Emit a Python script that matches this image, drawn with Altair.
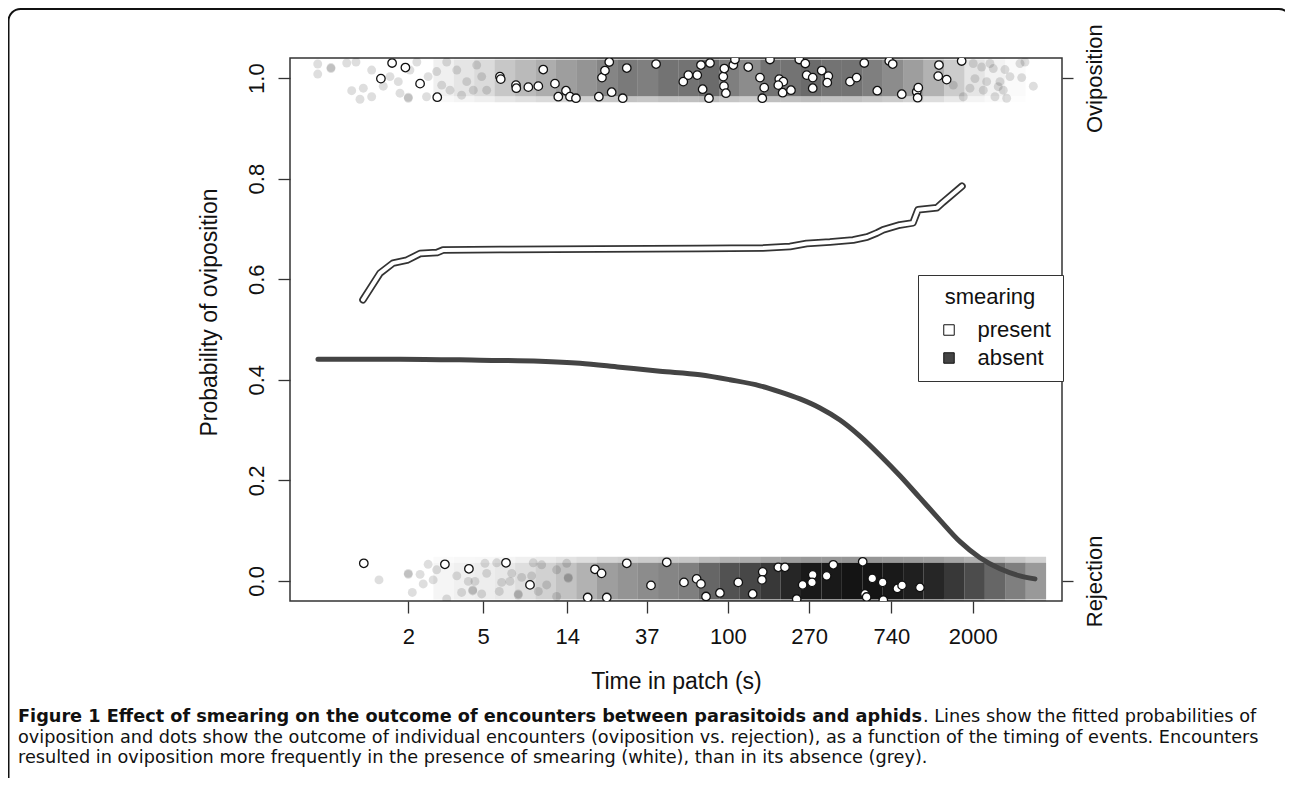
import altair as alt
import pandas as pd

# ---------------- data ----------------
x_ticks = [2, 5, 14, 37, 100, 270, 740, 2000]
y_ticks = [0, 0.2, 0.4, 0.6, 0.8, 1.0]
outcome_values = [0, 1]
outcome_labels = ["Rejection", "Oviposition"]
smearing_levels = ["present", "absent"]
smearing_colors = ["white", "#444444"]

# fitted curves
curve_present_t = [1.148, 1.414, 1.658, 1.968, 2.307, 2.841, 3.057, 6.14, 20.9, 71.0,
                   153.7, 213.8, 262, 348.7, 463, 550, 620, 667, 820, 963, 1024, 1291, 1391, 1755]
curve_present_p = [0.559, 0.612, 0.632, 0.638, 0.651, 0.653, 0.658, 0.659, 0.660, 0.661,
                   0.662, 0.665, 0.671, 0.674, 0.678, 0.684, 0.692, 0.698, 0.708, 0.712, 0.738, 0.742, 0.753, 0.785]
curve_absent_t = [0.662, 1.81, 4.81, 10.02, 16.36, 26.7, 43.5, 71.0, 102.5, 148.1, 189.2, 241.6,
                  308.6, 394.3, 503.4, 643.3, 821.6, 1049.6, 1340, 1713, 2187, 2794, 3566, 4288]
curve_absent_p = [0.441, 0.441, 0.439, 0.437, 0.433, 0.425, 0.417, 0.410, 0.400, 0.388, 0.376, 0.362,
                  0.344, 0.320, 0.288, 0.250, 0.209, 0.165, 0.121, 0.078, 0.046, 0.024, 0.010, 0.004]

# individual encounters, smearing present (white dots), jittered outcome
present_ovi_t = [1.64, 1.93, 1.43, 2.31, 2.85, 6.14, 6.2, 7.47, 7.5, 8.69, 9.82, 10.43, 12.04, 13.78, 12.54,
                 14.47, 15.57, 20.6, 24.1, 27.6, 21.4, 22.2, 23.4, 29.0, 41.5, 57.9, 61.6, 68.7, 71.9, 80.3,
                 73.4, 79.3, 94.5, 95.7, 106.8, 109.0, 95.3, 97.6, 128.3, 148.1, 167.3, 156.0, 152.3, 187.5,
                 197.0, 185.3, 195.4, 216.4, 239.6, 257.8, 262.3, 282.4, 315.2, 341.8, 337.4, 282.4, 445.5,
                 483.5, 530.7, 622.3, 720.6, 751.5, 839.8, 1008.6, 1028, 1020, 1324, 1312, 1455, 1748]
present_ovi_y = [1.030, 1.021, 0.999, 0.989, 0.962, 1.003, 0.998, 0.986, 0.980, 0.982,
                 0.984, 1.017, 0.989, 0.975, 0.963, 0.963, 0.960, 0.963, 0.972, 0.960,
                 1.001, 1.015, 1.032, 1.020, 1.028, 0.993, 1.006, 1.006, 1.026, 1.030,
                 0.978, 0.960, 1.003, 1.019, 1.026, 1.037, 0.984, 0.970, 1.022, 1.001,
                 1.037, 0.981, 0.960, 0.998, 0.993, 0.986, 0.971, 0.976, 1.037, 1.029,
                 1.006, 1.001, 1.015, 1.004, 0.991, 0.980, 0.993, 1.001, 1.030, 0.975,
                 1.034, 1.028, 0.968, 0.973, 0.981, 0.961, 1.026, 1.004, 0.997, 1.034]
present_rej_t = [1.16, 3.13, 4.20, 6.61, 8.87, 19.65, 21.3, 17.97, 22.7, 29.0,
                 47.3, 39.0, 58.4, 68.2, 71.9, 76.5, 90.7, 113.5, 135.4, 153.1,
                 151.7, 185.3, 201.1, 232.1, 249.6, 282.4, 279.9, 334.9, 363.2, 520.6,
                 535.5, 546.4, 585.4, 664.8, 670, 795.6, 843.2, 1049]
present_rej_y = [0.035, 0.033, 0.024, 0.036, -0.008, 0.023, 0.015, -0.033, -0.033, 0.035,
                 0.037, -0.009, -0.003, 0.004, -0.006, -0.031, -0.024, -0.003, -0.026, 0.018,
                 0.002, 0.027, 0.027, -0.036, -0.008, 0.012, -0.003, 0.010, 0.032, 0.038,
                 -0.026, -0.032, 0.005, -0.003, -0.038, -0.015, -0.009, -0.013]

# smearing absent: isolated encounters at the sparse ends of the clouds
absent_ovi_t = [0.660, 0.660, 0.776, 0.776, 0.941, 1.054, 1.0, 1.107, 1.153, 1.277,
                1.277, 1.472, 1.598, 1.769, 1.806, 2.0, 2.0, 2.04, 2.22, 2.50,
                2.55, 2.83, 3.01, 3.20, 3.33, 3.62, 3.84, 4.09, 4.43, 4.62, 4.91, 5.22,
                2014, 2233, 2472, 2574, 2969, 3569, 3794, 2057, 2374, 2793,
                3157, 3645, 4203, 2278, 2628, 3032, 2735, 2909, 1783, 1578, 1935]
absent_ovi_y = [1.028, 1.008, 1.019, 1.021, 1.030, 1.032, 0.975, 0.958, 0.980, 1.016,
                0.963, 0.984, 1.003, 0.993, 0.970, 0.960, 0.962, 1.016, 1.032, 0.963,
                1.003, 1.013, 0.986, 1.032, 0.976, 1.016, 0.966, 0.993, 0.976, 1.026, 1.003, 0.976,
                1.029, 1.022, 1.029, 1.019, 1.017, 1.029, 1.032, 0.999, 0.993, 0.993,
                1.003, 1.001, 0.984, 0.976, 0.963, 0.960, 0.983, 0.976, 0.963, 0.986, 0.980]
absent_rej_t = [1.397, 2.0, 2.0, 2.31, 2.10, 2.55, 2.71, 2.40, 2.83, 3.20,
                3.62, 3.84, 4.40, 4.40, 4.17, 4.52, 4.91, 5.11, 5.22, 5.90,
                6.09, 6.27, 7.09, 6.94, 7.68, 7.68, 8.01, 9.05, 9.23, 10.23,
                9.82, 10.88, 12.29, 13.90, 14.17, 14.17, 12.29]
absent_rej_y = [0.002, 0.013, 0.015, 0.013, -0.023, 0.033, 0.002, -0.006, 0.022, -0.036,
                0.010, -0.023, -0.020, -0.018, -0.001, -0.001, -0.026, 0.035, 0.015, 0.036,
                -0.021, -0.003, 0.015, -0.001, -0.028, -0.026, 0.007, 0.010, 0.036, 0.032,
                -0.021, -0.008, 0.022, 0.035, 0.005, 0.007, -0.031]

# dense part of the smearing-absent clouds: darkness read per time bin
cloud_edges = [2.718, 3.490, 4.482, 5.755, 7.389, 9.488, 12.18, 15.64, 20.09, 25.79, 33.12,
               42.52, 54.60, 70.11, 90.02, 115.6, 148.4, 190.6, 244.7, 314.2, 403.4,
               518.0, 665.1, 854.1, 1096.6, 1408, 1808, 2322, 2981, 3828, 4915]
cloud_ovi_dark = [0.06, 0.10, 0.14, 0.22, 0.27, 0.32, 0.38, 0.42, 0.48, 0.52,
                  0.50, 0.55, 0.55, 0.58, 0.50, 0.45, 0.55, 0.55, 0.58, 0.55,
                  0.55, 0.50, 0.45, 0.38, 0.30, 0.20, 0.10, 0.05, 0.02, 0.0]
cloud_rej_dark = [0.04, 0.06, 0.07, 0.09, 0.13, 0.18, 0.24, 0.30, 0.38, 0.42,
                  0.45, 0.48, 0.50, 0.60, 0.68, 0.72, 0.78, 0.85, 0.90, 0.90,
                  0.92, 0.92, 0.90, 0.88, 0.85, 0.78, 0.70, 0.60, 0.50, 0.40]
jitter_core = 0.036     # half-height of the densely covered part of each cloud
jitter_outer = 0.048    # half-height reached by the edges of the outermost dots
edge_fade = 0.45        # relative darkness of the fuzzy cloud edges

# caption
caption_bold = "Figure 1 Effect of smearing on the outcome of encounters between parasitoids and aphids"
caption_lines = [
    ". Lines show the fitted probabilities of",
    "oviposition and dots show the outcome of individual encounters (oviposition vs. rejection), as a function of the timing of events. Encounters",
    "resulted in oviposition more frequently in the presence of smearing (white), than in its absence (grey).",
]

# ---------------- tables ----------------
rows = []
for i in range(len(cloud_edges) - 1):
    for centre, dark in ((1, cloud_ovi_dark[i]), (0, cloud_rej_dark[i])):
        lo, hi = cloud_edges[i], cloud_edges[i + 1]
        rows.append(dict(lo=lo, hi=hi, y0=centre - jitter_core, y1=centre + jitter_core, d=dark))
        rows.append(dict(lo=lo, hi=hi, y0=centre + jitter_core, y1=centre + jitter_outer, d=dark * edge_fade))
        rows.append(dict(lo=lo, hi=hi, y0=centre - jitter_outer, y1=centre - jitter_core, d=dark * edge_fade))
clouds = pd.DataFrame(rows)

absent_pts = pd.DataFrame({"t": absent_ovi_t + absent_rej_t, "y": absent_ovi_y + absent_rej_y})
present_pts = pd.DataFrame({"t": present_ovi_t + present_rej_t, "y": present_ovi_y + present_rej_y,
                            "smearing": "present"})
cp = pd.DataFrame({"t": curve_present_t, "p": curve_present_p})
ca = pd.DataFrame({"t": curve_absent_t, "p": curve_absent_p})
one = pd.DataFrame({"k": [0]})

# ---------------- scales / axes ----------------
W, H = 772, 543
FONT = "Liberation Sans"
x_scale = alt.Scale(type="log", domain=[0.47, 5970], nice=False)
y_scale = alt.Scale(domain=[-0.04, 1.04], nice=False, zero=False)

x_axis = alt.Axis(values=x_ticks, format="d", title="Time in patch (s)", labelPadding=13,
                  titleY=87, titleBaseline="alphabetic")
y_axis = alt.Axis(values=y_ticks, format=".1f", title="Probability of oviposition", orient="left",
                  labelAngle=270, labelAlign="center", labelBaseline="alphabetic", labelPadding=15,
                  titleAngle=270, titleBaseline="alphabetic", titleX=-74, titleY=254)


def X(f):
    return alt.X(f + ":Q", scale=x_scale, axis=x_axis)


def Y(f):
    return alt.Y(f + ":Q", scale=y_scale, axis=y_axis)


cloud_layer = alt.Chart(clouds).mark_rect(color="black", clip=True).encode(
    x=X("lo"), x2="hi:Q", y=Y("y0"), y2="y1:Q", opacity=alt.Opacity("d:Q", scale=None))

absent_layer = alt.Chart(absent_pts).mark_circle(color="black", opacity=0.13, size=80, clip=True).encode(
    x=X("t"), y=Y("y"))

present_layer = alt.Chart(present_pts).mark_circle(stroke="#111111", strokeWidth=1.3, size=72,
                                                   opacity=1, clip=True).encode(
    x=X("t"), y=Y("y"),
    fill=alt.Fill("smearing:N", scale=alt.Scale(domain=smearing_levels, range=smearing_colors),
                  legend=alt.Legend(title="smearing", orient="none", legendX=628, legendY=217,
                                    padding=12, strokeColor="#333333", fillColor="white",
                                    titleFont=FONT, titleFontSize=22, titleFontWeight="normal",
                                    titleColor="#111111", titleAnchor="middle", titlePadding=10,
                                    labelFont=FONT, labelFontSize=22, labelColor="#111111",
                                    labelOffset=17.5, symbolOffset=8, rowPadding=6,
                                    symbolType="square", symbolSize=110, symbolStrokeColor="#111111",
                                    symbolStrokeWidth=1, symbolOpacity=1)))

present_outline = alt.Chart(cp).mark_line(color="#333333", strokeWidth=7.5, strokeCap="round",
                                          strokeJoin="round").encode(x=X("t"), y=Y("p"))
present_inner = alt.Chart(cp).mark_line(color="white", strokeWidth=4, strokeCap="round",
                                        strokeJoin="round").encode(x=X("t"), y=Y("p"))
absent_line = alt.Chart(ca).mark_line(color="#444444", strokeWidth=5, strokeCap="round",
                                      strokeJoin="round", interpolate="monotone").encode(x=X("t"), y=Y("p"))

border = alt.Chart(one).mark_rect(fillOpacity=0, stroke="#111111", strokeWidth=2, cornerRadius=12).encode(
    x=alt.value(-281.5), x2=alt.value(1001), y=alt.value(-49), y2=alt.value(742))

CAP_FONT = "DejaVu Sans"
CAP_SIZE = 17.7


def cap(text, x, y, align, bold=False):
    return alt.Chart(one).mark_text(text=text, font=CAP_FONT, fontSize=CAP_SIZE,
                                    fontWeight="bold" if bold else "normal", align=align,
                                    baseline="alphabetic", color="#111111").encode(
        x=alt.value(x), y=alt.value(y))


L = -272          # left edge of the caption column relative to the plot origin
captions = [
    cap(caption_bold, L, 664, "left", True),
    cap(caption_lines[0], 633, 664, "left"),
    cap(caption_lines[1], L, 685, "left"),
    cap(caption_lines[2], L, 705, "left"),
]

main = alt.layer(cloud_layer, absent_layer, present_layer, present_outline, present_inner, absent_line,
                 border, *captions)

label_expr = " : ".join(
    [f"datum.value == {v} ? '{l}'" for v, l in zip(outcome_values[:-1], outcome_labels[:-1])]
    + [f"'{outcome_labels[-1]}'"])
right_df = pd.DataFrame({"t": [1.0, 1.0], "v": outcome_values})
right_layer = alt.Chart(right_df).mark_point(opacity=0).encode(
    x=X("t"),
    y=alt.Y("v:Q", scale=y_scale,
            axis=alt.Axis(orient="right", values=outcome_values, labelExpr=label_expr, title=None,
                          labelAngle=270, labelAlign="center", labelBaseline="alphabetic",
                          labelPadding=28, tickSize=11)))

chart = alt.layer(main, right_layer).resolve_scale(y="independent").properties(
    width=W, height=H,
    autosize=alt.AutoSizeParams(type="none"),
    padding={"left": 282, "top": 50, "right": 223, "bottom": 177},
).configure(background="white").configure_view(
    stroke="#333333", strokeWidth=1.5
).configure_axis(
    grid=False, domain=False, ticks=True, tickSize=12, tickColor="#333333", tickWidth=1.3,
    labelFont=FONT, labelFontSize=22, labelColor="#111111",
    titleFont=FONT, titleFontSize=23, titleFontWeight="normal", titleColor="#111111",
)

chart.save("out.html", embed_options={"renderer": "svg", "actions": False})
